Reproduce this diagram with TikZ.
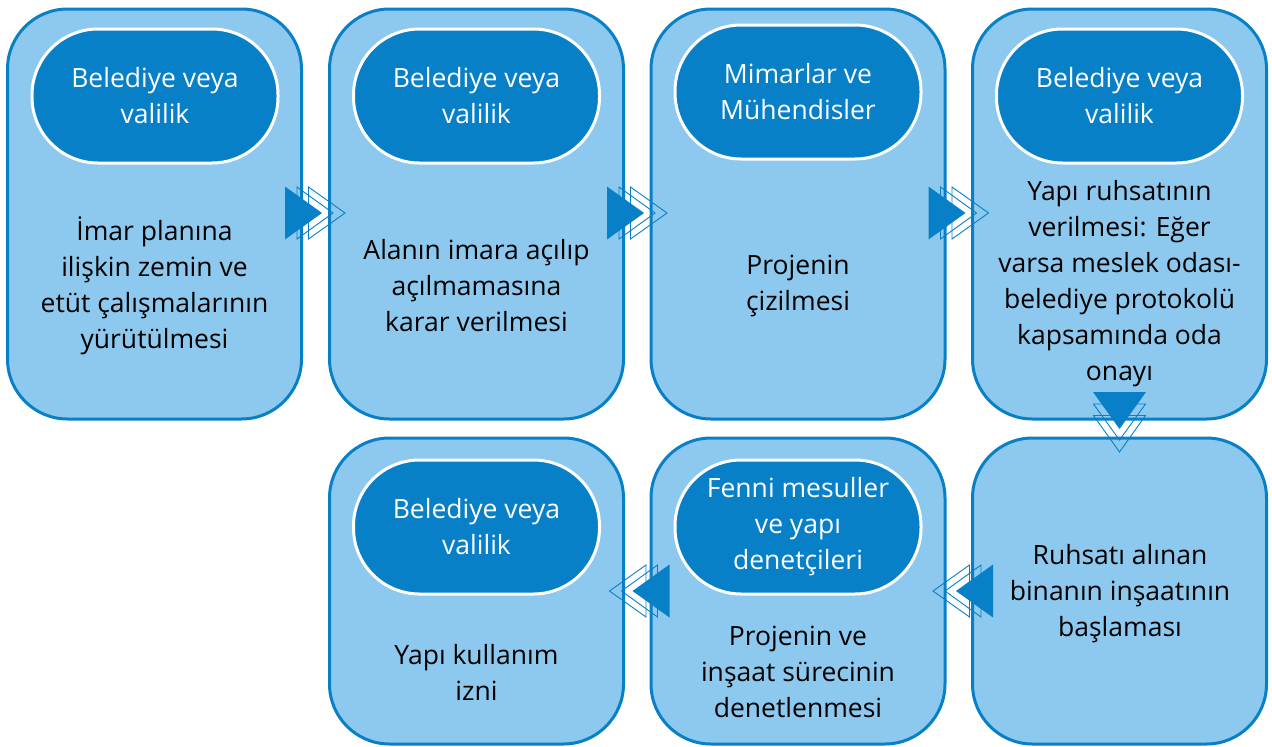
\documentclass[tikz,border=0pt]{standalone}
\usepackage{fontspec}
\setmainfont{Open Sans}
\definecolor{dblue}{HTML}{0880C8}
\definecolor{lblue}{HTML}{8DC9EE}
\begin{document}
\begin{tikzpicture}[x=1pt,y=-1pt,
  box/.style={draw=dblue,fill=lblue,line width=3pt,rounded corners=60pt,minimum width=294pt,inner sep=0pt},
  pill/.style={draw=white,fill=dblue,line width=3pt,rounded corners=66pt,minimum width=246pt,minimum height=134pt,inner sep=0pt,
    text=white,font=\fontsize{26.5}{36}\selectfont,align=center},
  body/.style={font=\fontsize{26.5}{36}\selectfont,align=center,text=black},
  pics/flow/.style={code={
    \fill[dblue] (0,-26.5) -- (37,0) -- (0,26.5) -- cycle;
    \draw[dblue,line width=0.9pt] (12,-26) -- (48,0) -- (12,26) -- cycle;
    \draw[dblue,line width=0.9pt] (23.5,-26) -- (60,0) -- (23.5,26) -- cycle;
  }}]
\useasboundingbox (0,0) rectangle (1272,747);
% top row
\node[box,minimum height=410pt] (b1) at (154.5,214) {};
\node[box,minimum height=410pt] (b2) at (476.5,214) {};
\node[box,minimum height=410pt] (b3) at (798,214) {};
\node[box,minimum height=410pt] (b4) at (1119.5,214) {};
% bottom row
\node[box,minimum height=306pt] (b5) at (1119.5,591) {};
\node[box,minimum height=306pt] (b6) at (798,591) {};
\node[box,minimum height=306pt] (b7) at (476.5,591) {};
% pills
\node[pill] (p1) at (155,96) {Belediye veya\\valilik};
\node[pill] (p2) at (476.5,96) {Belediye veya\\valilik};
\node[pill] (p3) at (798,92) {Mimarlar ve\\Mühendisler};
\node[pill] (p4) at (1119.5,96) {Belediye veya\\valilik};
\node[pill] (p6) at (798,527) {Fenni mesuller\\ve yapı\\denetçileri};
\node[pill] (p7) at (476.5,527) {Belediye veya\\valilik};
% body texts
\node[body] (t1) at (154.5,286) {İmar planına\\ilişkin zemin ve\\etüt çalışmalarının\\yürütülmesi};
\node[body] (t2) at (476.5,286) {Alanın imara açılıp\\açılmamasına\\karar verilmesi};
\node[body] (t3) at (798,286) {Projenin\\çizilmesi};
\node[body] (t4) at (1119.5,284) {Yapı ruhsatının\\verilmesi: Eğer\\varsa meslek odası-\\belediye protokolü\\kapsamında oda\\onayı};
\node[body] (t5) at (1120,594) {Ruhsatı alınan\\binanın inşaatının\\başlaması};
\node[body] (t6) at (798,672) {Projenin ve\\inşaat sürecinin\\denetlenmesi};
\node[body] (t7) at (476.5,672) {Yapı kullanım\\izni};
% arrows
\pic at ([xshift=-18pt]b1.east|-0,213) {flow};
\pic at ([xshift=-18pt]b2.east|-0,213) {flow};
\pic at ([xshift=-18pt]b3.east|-0,213) {flow};
\pic[rotate=-90] at (b4.south|-0,392) {flow};
\pic[rotate=180] at ([xshift=22pt]b5.west|-0,591) {flow};
\pic[rotate=180] at ([xshift=20pt]b6.west|-0,591) {flow};
\end{tikzpicture}
\end{document}
